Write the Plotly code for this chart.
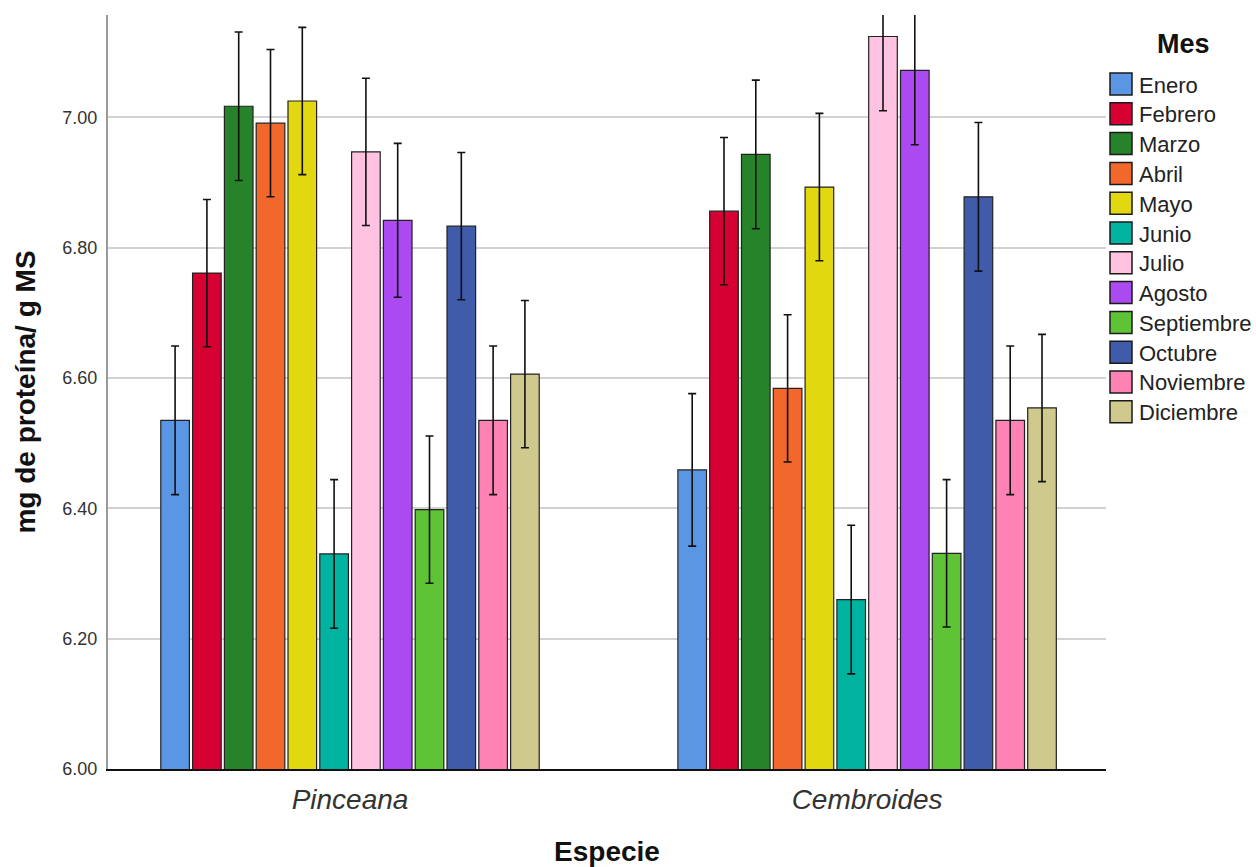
import plotly.graph_objects as go

# Especies (categorías del eje X) y meses (series)
especies = ["Pinceana", "Cembroides"]
meses = ["Enero", "Febrero", "Marzo", "Abril", "Mayo", "Junio",
         "Julio", "Agosto", "Septiembre", "Octubre", "Noviembre", "Diciembre"]

# Media de mg de proteína / g MS por mes
pinceana = [6.535, 6.761, 7.017, 6.991, 7.025, 6.330,
            6.947, 6.842, 6.398, 6.833, 6.535, 6.606]
cembroides = [6.459, 6.856, 6.943, 6.584, 6.893, 6.260,
              7.124, 7.072, 6.331, 6.878, 6.535, 6.554]

# Semiamplitud de las barras de error
err_pinceana = [0.114, 0.113, 0.114, 0.113, 0.113, 0.114,
                0.113, 0.118, 0.113, 0.113, 0.114, 0.113]
err_cembroides = [0.117, 0.113, 0.114, 0.113, 0.113, 0.114,
                  0.114, 0.114, 0.113, 0.114, 0.114, 0.113]

colores = ["#5A96E3", "#D60032", "#27832A", "#F2672C", "#E1D80F", "#00B3A0",
           "#FFC2E0", "#AA4AF0", "#5EC335", "#3F5BA9", "#FF82B4", "#D0C98D"]

FONT = "Liberation Sans, Arial, sans-serif"
W, H = 1256, 867
M_L, M_R, M_T, M_B = 108, 150, 15, 98


def paper_x(px):
    return (px - M_L) / (W - M_L - M_R)


def paper_y(py):
    return (H - M_B - py) / (H - M_T - M_B)


fig = go.Figure()
for i, mes in enumerate(meses):
    fig.add_trace(go.Bar(
        name=mes,
        x=especies,
        y=[pinceana[i], cembroides[i]],
        marker=dict(color=colores[i], line=dict(color="#222222", width=1.2)),
        error_y=dict(type="data", array=[err_pinceana[i], err_cembroides[i]],
                     visible=True, color="#111111", thickness=1.6, width=4),
        showlegend=False,
    ))

# Leyenda "Mes": cuadros de color y etiquetas
shapes = []
annotations = [dict(
    text="<b>Mes</b>", x=paper_x(1183), y=paper_y(44),
    xref="paper", yref="paper", xanchor="center", yanchor="middle",
    showarrow=False, font=dict(size=27, color="#111111", family=FONT),
)]
for i, mes in enumerate(meses):
    cy = 84 + i * 29.8
    shapes.append(dict(
        type="rect", xref="paper", yref="paper",
        x0=paper_x(1110), x1=paper_x(1132),
        y0=paper_y(cy - 11), y1=paper_y(cy + 11),
        fillcolor=colores[i], line=dict(color="#1a1a1a", width=1.5),
    ))
    annotations.append(dict(
        text=mes, x=paper_x(1137), y=paper_y(cy + 1),
        xref="paper", yref="paper", xanchor="left", yanchor="middle",
        showarrow=False, font=dict(size=22, color="#222222", family=FONT),
    ))

fig.update_layout(
    width=W, height=H,
    margin=dict(l=M_L, r=M_R, t=M_T, b=M_B),
    plot_bgcolor="white", paper_bgcolor="white",
    font=dict(family=FONT, color="#222222"),
    barmode="group",
    bargap=0.262,
    bargroupgap=0.10,
    shapes=shapes,
    annotations=annotations,
)

fig.update_xaxes(
    type="category",
    automargin=False,
    range=[-0.468, 1.462],
    tickvals=especies,
    ticktext=["<i>" + e + "</i>" for e in especies],
    showline=True, linecolor="#111111", linewidth=1.5,
    showgrid=False,
    ticks="outside", ticklen=5, tickcolor="rgba(0,0,0,0)",
    tickfont=dict(size=28, color="#333333", family=FONT),
    title=dict(text="<b>Especie</b>", font=dict(size=28, color="#111111"), standoff=29),
)

fig.update_yaxes(
    automargin=False,
    range=[6.0, 7.157],
    tickvals=[6.0, 6.2, 6.4, 6.6, 6.8, 7.0],
    tickformat=".2f",
    showline=True, linecolor="#9a9a9a", linewidth=2,
    showgrid=True, gridcolor="#d2d2d2", gridwidth=2,
    zeroline=False,
    ticks="outside", ticklen=5, tickcolor="rgba(0,0,0,0)",
    tickfont=dict(size=18, color="#333333"),
    title=dict(text="<b>mg de proteína/ g MS</b>",
               font=dict(size=28, color="#111111", family=FONT),
               standoff=19),
)

fig.write_html("out.html")
